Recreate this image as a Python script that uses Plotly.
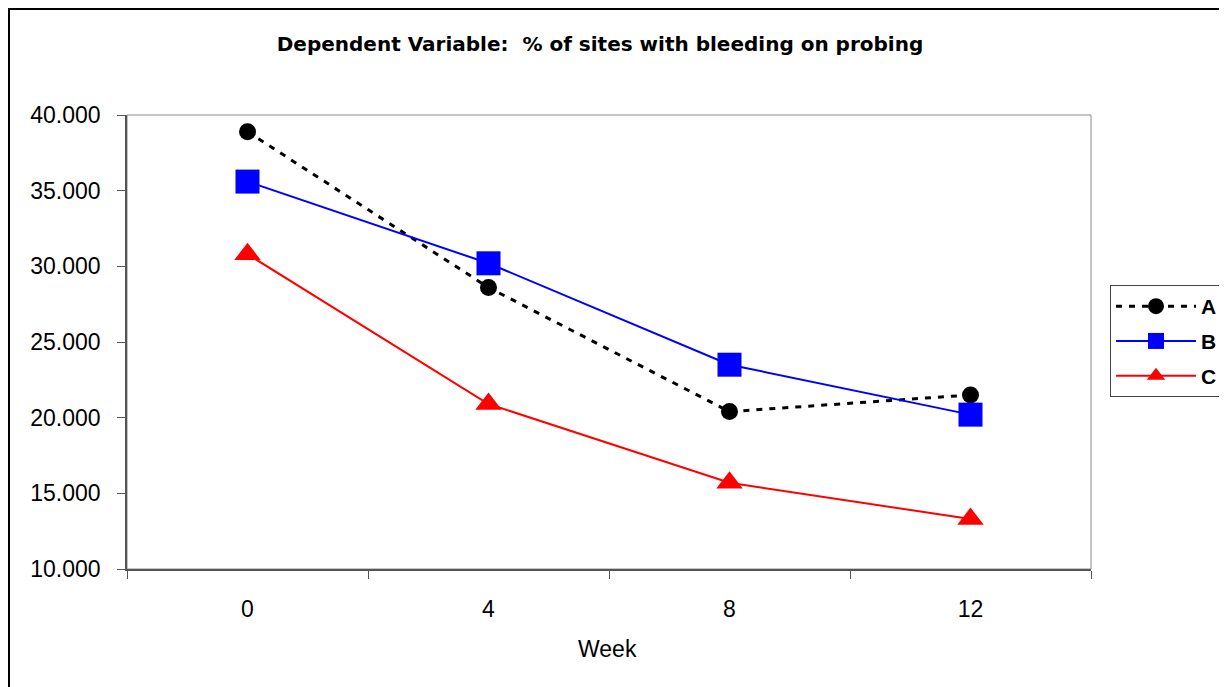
import plotly.graph_objects as go

# data
weeks = ["0", "4", "8", "12"]
series_a = [38.9, 28.6, 20.4, 21.5]
series_b = [35.6, 30.2, 23.5, 20.2]
series_c = [30.8, 20.9, 15.7, 13.3]

# page puts the figure 8px in from the top-left corner
OFF = 8
W, H = 1227 - OFF, 687 - OFF
L, R, T, B = 127 - OFF, 136, 115 - OFF, 118   # plot area margins in px
pw, ph = W - L - R, H - T - B

def px_x(p):   # page pixel -> paper x
    return (p - OFF - L) / pw

def px_y(p):   # page pixel -> paper y
    return (H - B - (p - OFF)) / ph

fnt = "Liberation Sans, Arial, sans-serif"
title_fnt = "DejaVu Sans, Liberation Sans, Arial, sans-serif"

fig = go.Figure()

fig.add_trace(go.Scatter(
    x=weeks, y=series_a, name="A", mode="lines+markers", legendgroup="a",
    line=dict(color="black", width=3, dash="6px,7px"),
    marker=dict(symbol="circle", size=17, color="black"),
))
fig.add_trace(go.Scatter(
    x=weeks, y=series_b, name="B", mode="lines+markers", legendgroup="b",
    line=dict(color="#0000FF", width=2),
    marker=dict(symbol="square", size=24, color="#0000FF"),
))
fig.add_trace(go.Scatter(
    x=weeks, y=series_c, name="C", mode="lines+markers", legendgroup="c",
    line=dict(color="#FF0000", width=2),
    marker=dict(symbol="triangle-up", size=23, color="#FF0000"),
))

# plot area border
fig.add_shape(type="rect", xref="paper", yref="paper", x0=0, x1=1, y0=0, y1=1,
              line=dict(color="#8c8c8c", width=1), layer="below")
# chart outer frame
fig.add_shape(type="rect", xref="paper", yref="paper",
              x0=px_x(OFF + 1), x1=px_x(1227 + 20), y0=px_y(687 + 20), y1=px_y(OFF + 1),
              line=dict(color="black", width=2))

fig.add_annotation(text="Week", xref="paper", yref="paper",
                   x=px_x(607), y=px_y(649), showarrow=False,
                   xanchor="center", yanchor="middle",
                   font=dict(family=fnt, size=23, color="black"))

fig.update_layout(
    width=W, height=H,
    margin=dict(l=L, r=R, t=T, b=B, autoexpand=False),
    paper_bgcolor="white", plot_bgcolor="white",
    font=dict(family=fnt, color="black"),
    title=dict(text="<b>Dependent Variable:  % of sites with bleeding on probing</b>",
               x=(600 - OFF) / W, y=1 - (44 - OFF) / H, xref="container", yref="container",
               xanchor="center", yanchor="middle",
               font=dict(family=title_fnt, size=20, color="black")),
    xaxis=dict(type="category", range=[-0.5, 3.5], tickson="boundaries",
               ticks="outside", ticklen=8, tickcolor="#555", tickwidth=1,
               showline=True, linecolor="#555", linewidth=1.5,
               showgrid=False, zeroline=False, ticklabelstandoff=19,
               tickfont=dict(family=fnt, size=23, color="black")),
    yaxis=dict(range=[10, 40], dtick=5, tickformat=".3f",
               ticks="outside", ticklen=8, tickcolor="#555", tickwidth=1,
               showline=True, linecolor="#555", linewidth=1.5,
               showgrid=False, zeroline=False, ticklabelstandoff=12,
               tickfont=dict(family=fnt, size=23, color="black")),
    showlegend=True,
    legend=dict(x=px_x(1110), y=px_y(285), xanchor="left", yanchor="top",
                bordercolor="#444", borderwidth=1, bgcolor="white",
                itemwidth=80, tracegroupgap=4.5,
                font=dict(family=fnt, size=21, color="black", weight="bold")),
)

fig.write_html("out.html")
